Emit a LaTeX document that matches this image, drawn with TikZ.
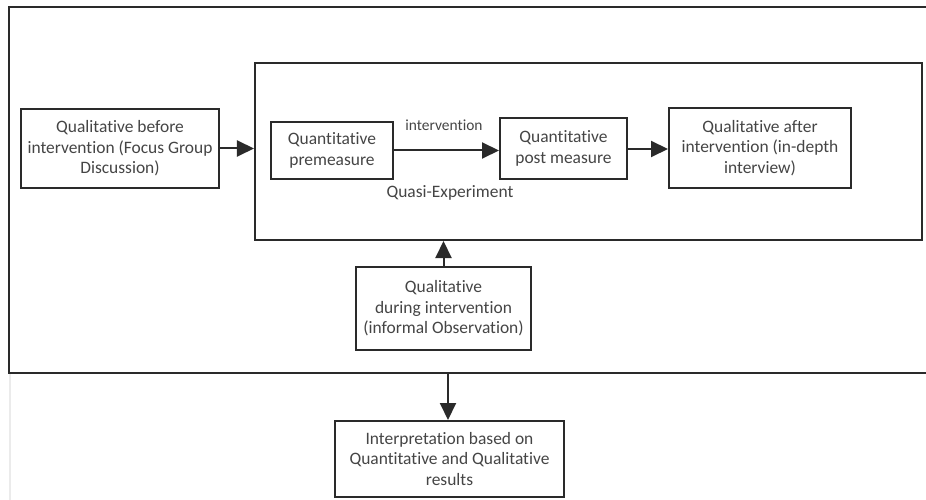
\documentclass[tikz,border=0pt]{standalone}
\usepackage{fontspec}
\setmainfont{Carlito}[Ligatures=NoCommon]
\usetikzlibrary{arrows.meta}
\definecolor{linec}{HTML}{2A2A2A}
\definecolor{textc}{HTML}{454545}
\tikzset{
  x=1bp, y=-1bp,
  box/.style={draw=linec, line width=2bp, rectangle, inner sep=0pt, align=center,
    text=textc, font=\fontsize{17.5}{20.5}\selectfont},
  lbl/.style={inner sep=0pt, text=textc, font=\fontsize{17.5}{20.5}\selectfont},
  arr/.style={draw=linec, line width=2bp, -{Triangle[length=17bp,width=16bp]}},
  frame/.style={draw=linec, line width=2bp}
}
\begin{document}
\begin{tikzpicture}
\useasboundingbox (0,0) rectangle (926,500);
\fill[white] (0,0) rectangle (926,500);
% faint page edge
\draw[black!8, line width=1.5bp] (10,374) -- (10,500);
% outer frame (open on the right)
\draw[frame] (926,7) -- (9,7) -- (9,373) -- (926,373);
\coordinate (outbot) at (448,373);
% inner box
\node[box, minimum width=667bp, minimum height=177bp] (exp) at (588.5,151.5) {};
\node[box, minimum width=198bp, minimum height=79bp] (before) at (120,148.5)
  {Qualitative before\\intervention (Focus Group\\Discussion)};
\node[box, minimum width=122bp, minimum height=57bp] (pre) at (332,150.5)
  {Quantitative\\premeasure};
\node[box, minimum width=127bp, minimum height=61bp] (post) at (563.5,148.5)
  {Quantitative\\post measure};
\node[box, minimum width=182bp, minimum height=80bp] (after) at (760,148)
  {Qualitative after\\intervention (in-depth\\interview)};
\node[lbl, font=\fontsize{15.5}{18}\selectfont] (intlbl) at (444,125) {intervention};
\node[lbl] (quasi) at (450,193) {Quasi-Experiment};
\node[box, minimum width=175bp, minimum height=83bp] (during) at (443.5,308.5)
  {Qualitative\\during intervention\\(informal Observation)};
\node[box, minimum width=229bp, minimum height=76bp] (interp) at (449.5,459)
  {Interpretation based on\\Quantitative and Qualitative\\results};
% connectors
\draw[arr] (before.east) -- (before.east -| exp.west);
\draw[arr] (pre.east) -- (pre.east -| post.west);
\draw[arr] (post.east |- 0,149) -- (after.west |- 0,149);
\draw[arr] (during.north) -- (during.north |- exp.south);
\draw[arr] (outbot) -- (outbot |- interp.north);
\end{tikzpicture}
\end{document}
